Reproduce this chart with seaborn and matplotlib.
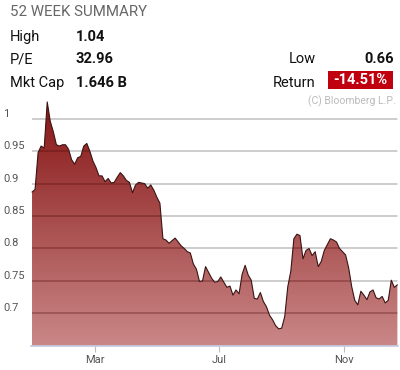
import matplotlib
matplotlib.use('Agg')
import matplotlib.pyplot as plt
import matplotlib.dates as mdates
from matplotlib.patches import PathPatch, Rectangle
import numpy as np
import pandas as pd
import seaborn as sns

# Price every 3 days
values = [
    0.887, 0.891, 0.948, 0.958, 0.955, 1.026, 0.996, 0.980, 0.960, 0.958,
    0.960, 0.960, 0.953, 0.937, 0.930, 0.940, 0.942, 0.958, 0.962, 0.950,
    0.935, 0.925, 0.912, 0.912, 0.903, 0.908, 0.901, 0.902, 0.910, 0.917,
    0.912, 0.905, 0.902, 0.886, 0.898, 0.902, 0.901, 0.900, 0.893, 0.898,
    0.890, 0.879, 0.870, 0.815, 0.813, 0.808, 0.812, 0.816, 0.810, 0.804,
    0.800, 0.795, 0.793, 0.776, 0.768, 0.749, 0.750, 0.772, 0.763, 0.754,
    0.748, 0.749, 0.756, 0.748, 0.740, 0.742, 0.728, 0.736, 0.730, 0.760,
    0.774, 0.759, 0.751, 0.723, 0.722, 0.732, 0.718, 0.710, 0.697, 0.690,
    0.681, 0.676, 0.677, 0.695, 0.741, 0.765, 0.815, 0.822, 0.820, 0.784,
    0.797, 0.800, 0.789, 0.795, 0.772, 0.780, 0.797, 0.806, 0.815, 0.813,
    0.810, 0.800, 0.795, 0.790, 0.770, 0.741, 0.720, 0.713, 0.734, 0.728,
    0.721, 0.733, 0.736, 0.724, 0.722, 0.726, 0.716, 0.720, 0.751, 0.740,
    0.744,
]
start_date = '2013-12-29'
yticks = [0.7, 0.75, 0.8, 0.85, 0.9, 0.95, 1.0]
ytick_labels = ['0.7', '0.75', '0.8', '0.85', '0.9', '0.95', '1']

stats_left = [('High', '1.04'), ('P/E', '32.96'), ('Mkt Cap', '1.646 B')]
low_value = '0.66'
return_value = '-14.51%'

df = pd.DataFrame({
    'date': pd.date_range(start_date, periods=len(values), freq='3D'),
    'price': values,
})

sns.set_style('white')
plt.rcParams['font.family'] = ['Roboto', 'DejaVu Sans']

fig = plt.figure(figsize=(4, 3.7), dpi=100)
ax = fig.add_axes([0.0775, 0.0657, 0.9185, 0.6657])

ymin, ymax = 0.65, 1.03
x0 = pd.Timestamp('2013-12-28')
x1 = pd.Timestamp('2014-12-25')

# area under the curve, filled with a vertical gradient
poly = ax.fill_between(df['date'], df['price'], ymin, facecolor='none', edgecolor='none')
clip = PathPatch(poly.get_paths()[0], transform=ax.transData, facecolor='none', edgecolor='none')
ax.add_patch(clip)
# area above the curve (white background)
upper = ax.fill_between(df['date'], df['price'], ymax, facecolor='none', edgecolor='none')
clip_up = PathPatch(upper.get_paths()[0], transform=ax.transData, facecolor='none', edgecolor='none')
ax.add_patch(clip_up)

top = np.array([0.53, 0.08, 0.08])
bottom = np.array([0.79, 0.53, 0.53])
t = np.linspace(0, 1, 256)[:, None]
grad = (top * (1 - t) + bottom * t)[:, None, :]
im = ax.imshow(grad, extent=[mdates.date2num(x0), mdates.date2num(x1), ymin, ymax],
               aspect='auto', origin='upper', zorder=1)
im.set_clip_path(clip)

# grid: light grey on white, darker where it crosses the fill
light = ax.hlines(yticks, x0, x1, colors='#c9c9c9', linewidth=1.3, zorder=2.5)
light.set_clip_path(clip_up)
for yv in yticks:
    dark = ax.axhline(yv, color='#4a0505', alpha=0.3, linewidth=1.3, zorder=2)
    dark.set_clip_path(clip)

sns.lineplot(data=df, x='date', y='price', ax=ax, color='#3a1414', linewidth=0.8, zorder=3)

ax.set_xlim(x0, x1)
ax.set_ylim(ymin, ymax)
ax.set_xlabel('')
ax.set_ylabel('')

ax.set_yticks(yticks)
ax.set_yticklabels(ytick_labels)
ax.tick_params(axis='y', length=0, pad=20, labelsize=8, labelcolor='#555555')
for lab in ax.get_yticklabels():
    lab.set_horizontalalignment('left')
    lab.set_verticalalignment('bottom')

ax.xaxis.set_major_locator(mdates.MonthLocator(bymonth=[3, 7, 11]))
ax.xaxis.set_major_formatter(mdates.DateFormatter('%b'))
ax.tick_params(axis='x', length=4, width=0.8, color='#bbbbbb', pad=3,
               labelsize=8, labelcolor='#555555', bottom=True)

for side in ['top', 'right', 'left']:
    ax.spines[side].set_visible(False)
ax.spines['bottom'].set_color('#c3c7de')
ax.spines['bottom'].set_linewidth(1.2)

# header block
fig.text(0.025, 0.9676, '52 WEEK SUMMARY', fontsize=10.8, color='#666666', va='center')
for (label, val), y in zip(stats_left, [0.9, 0.84, 0.777]):
    fig.text(0.025, y, label, fontsize=10.5, color='#111111', va='center')
    fig.text(0.19, y, val, fontsize=10.5, color='#111111', weight='bold', va='center')

fig.text(0.79, 0.84, 'Low', fontsize=10.5, color='#111111', va='center', ha='right')
fig.text(0.985, 0.84, low_value, fontsize=10.5, color='#111111', weight='bold',
         va='center', ha='right')
fig.text(0.79, 0.777, 'Return', fontsize=10.5, color='#111111', va='center', ha='right')
fig.patches.append(Rectangle((0.821, 0.759), 0.161, 0.049, transform=fig.transFigure,
                             facecolor='#c0000f', edgecolor='none'))
fig.text(0.9015, 0.7835, return_value, fontsize=10.5, color='white', weight='bold',
         va='center', ha='center')
fig.text(0.99, 0.727, '(C) Bloomberg L.P.', fontsize=7.5, color='#bbbbbb',
         va='center', ha='right')

fig.savefig('out.png', dpi=100)
